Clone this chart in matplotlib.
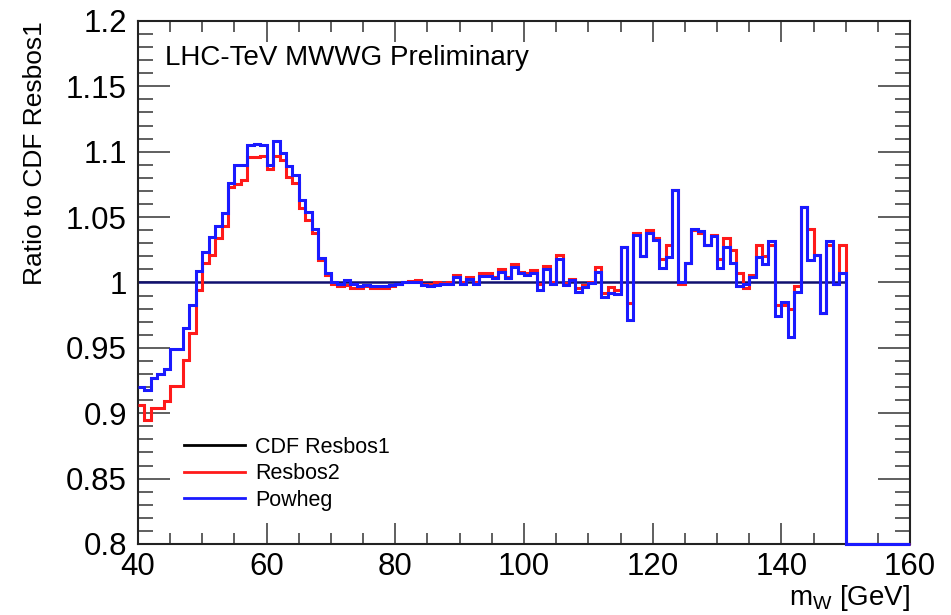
import numpy as np
import matplotlib
matplotlib.use("Agg")
import matplotlib.pyplot as plt
from matplotlib.lines import Line2D
from matplotlib.ticker import MultipleLocator, FuncFormatter

plt.rcParams['font.family'] = ['Liberation Sans', 'DejaVu Sans']
plt.rcParams['mathtext.default'] = 'regular'

# bin edges: 1 GeV bins from 40 to 160 GeV
mw_lo, mw_hi = 40, 160
edges = np.arange(mw_lo, mw_hi + 1, 1)

# ratio to CDF Resbos1, bins 40..149 (histograms are empty above 150)
resbos1 = [1.0] * 110 + [0.0] * 10

resbos2 = [
    0.906, 0.895, 0.904, 0.904, 0.909, 0.921, 0.921, 0.941, 0.961, 0.994,
    1.015, 1.021, 1.034, 1.043, 1.073, 1.075, 1.078, 1.096, 1.096, 1.097,
    1.087, 1.097, 1.094, 1.081, 1.076, 1.057, 1.048, 1.0375, 1.017, 1.006,
    0.999, 0.9975, 0.998, 0.9955, 0.996, 0.997, 0.996, 0.9955, 0.9955, 0.997,
    0.999, 1.000, 1.001, 1.0018, 0.999, 0.9987, 1.000, 0.9992, 1.0005, 1.006,
    1.0005, 1.0043, 1.000, 1.007, 1.007, 1.0043, 1.010, 1.0043, 1.014, 1.008,
    1.0074, 1.0094, 0.9987, 1.0125, 1.0005, 1.021, 0.9992, 1.0023, 0.9955, 0.998,
    1.0005, 1.012, 0.9916, 0.9967, 0.994, 1.027, 0.984, 1.0375, 1.020, 1.040,
    1.0337, 1.018, 1.0286, 1.071, 0.999, 1.0145, 1.040, 1.0375, 1.0286, 1.036,
    1.018, 1.034, 1.025, 1.007, 0.9954, 1.0056, 1.0286, 1.020, 1.0286, 0.983,
    0.983, 0.980, 0.997, 1.058, 1.041, 1.021, 0.977, 1.029, 0.9987, 1.029,
] + [0.0] * 10

powheg = [
    0.920, 0.918, 0.927, 0.930, 0.934, 0.949, 0.949, 0.965, 0.983, 1.009,
    1.023, 1.035, 1.043, 1.053, 1.076, 1.090, 1.090, 1.105, 1.106, 1.105,
    1.090, 1.108, 1.099, 1.089, 1.082, 1.063, 1.054, 1.041, 1.019, 1.007,
    1.000, 0.999, 1.002, 0.999, 0.997, 0.998, 0.997, 0.997, 0.997, 0.998,
    0.999, 1.000, 1.0005, 1.0005, 0.998, 0.9975, 0.998, 0.999, 0.999, 1.0045,
    0.999, 1.003, 0.999, 1.005, 1.005, 1.0036, 1.008, 1.0036, 1.012, 1.007,
    1.006, 1.0074, 0.9946, 1.010, 0.9987, 1.018, 0.998, 1.002, 0.993, 0.9967,
    0.9992, 1.008, 0.989, 0.992, 0.991, 1.027, 0.971, 1.036, 1.020, 1.0375,
    1.0324, 1.0107, 1.0196, 1.071, 1.0005, 1.0145, 1.041, 1.039, 1.0286, 1.0355,
    1.0107, 1.027, 1.015, 0.997, 0.999, 1.004, 1.0196, 1.014, 1.032, 0.974,
    0.985, 0.958, 0.993, 1.058, 1.017, 1.021, 0.977, 1.032, 0.9987, 1.007,
] + [0.0] * 10

labels = ['CDF Resbos1', 'Resbos2', 'Powheg']
colors = ['black', '#ff1a1a', '#1a1aff']

ymin, ymax = 0.8, 1.2

fig = plt.figure(figsize=(9.51, 6.15), dpi=100)
ax = fig.add_axes([0.1451, 0.1155, 0.8118, 0.8505])

# like ROOT, empty bins are drawn along the bottom of the frame
ax.stairs(np.maximum(resbos1, ymin), edges, baseline=None, color='#101070',
          lw=1.8, zorder=2, clip_on=False)
ax.stairs(np.maximum(resbos2, ymin), edges, baseline=None, color=colors[1],
          lw=2.2, zorder=3, clip_on=False)
ax.stairs(np.maximum(powheg, ymin), edges, baseline=None, color=colors[2],
          lw=2.2, zorder=4, clip_on=False)

ax.set_xlim(mw_lo, mw_hi)
ax.set_ylim(ymin, ymax)

ax.xaxis.set_major_locator(MultipleLocator(20))
ax.xaxis.set_minor_locator(MultipleLocator(5))
ax.yaxis.set_major_locator(MultipleLocator(0.05))
ax.yaxis.set_minor_locator(MultipleLocator(0.01))
ax.yaxis.set_major_formatter(FuncFormatter(lambda v, p: '%g' % round(v, 3)))

ax.tick_params(which='both', direction='in', top=True, right=True,
               color='#444444', width=1.2, labelsize=22.5)
ax.tick_params(axis='x', which='major', length=15, pad=6)
ax.tick_params(axis='x', which='minor', length=8)
ax.tick_params(axis='y', which='major', length=23, pad=8)
ax.tick_params(axis='y', which='minor', length=11)
for s in ax.spines.values():
    s.set_linewidth(1.5)
    s.set_color('#222222')

ax.set_ylabel('Ratio to CDF Resbos1', fontsize=19, loc='top')
ax.yaxis.set_label_coords(-0.118, 1.0)
ax.set_xlabel('$m_W$ [GeV]', fontsize=20, loc='right')
ax.xaxis.set_label_coords(1.0, -0.075)

ax.text(0.035, 0.93, 'LHC-TeV MWWG Preliminary', transform=ax.transAxes,
        fontsize=20, va='center', ha='left')

handles = [Line2D([], [], color=c, lw=2) for c in colors]
ax.legend(handles, labels, loc='upper left', bbox_to_anchor=(0.06, 0.205),
          frameon=False, fontsize=15.5, handlelength=2.8, handletextpad=0.5,
          labelspacing=0.25, borderpad=0, borderaxespad=0)

fig.savefig('out.png', dpi=100)
